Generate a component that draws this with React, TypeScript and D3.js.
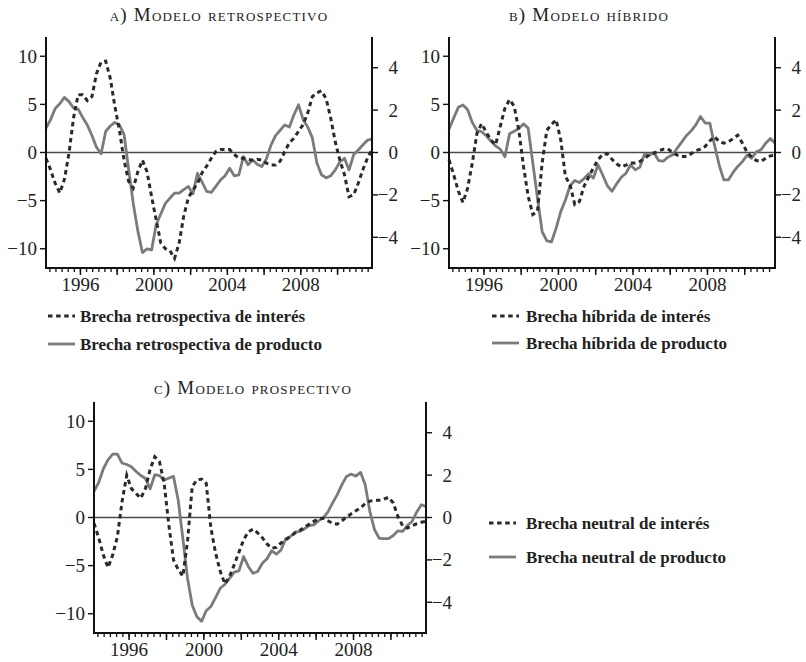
import React from "react";
import * as d3 from "d3";

// Quarterly observations, first observation 1994.125, step 0.25 year
const START = 1994.125;
const STEP = 0.25;

// a) Modelo retrospectivo
const interesA = [-0.6, -1.8, -3.2, -4.2, -2.8, -0.1, 3.6, 6.0, 6.0, 5.4, 5.8, 8.2, 9.4, 9.5, 7.7, 4.8, 2.3, -0.8, -3.0, -3.7, -2.0, -0.8, -2.0, -4.6, -7.0, -9.4, -10.0, -10.2, -11.0, -9.4, -6.6, -4.7, -3.9, -3.2, -2.1, -1.4, -0.6, 0.1, 0.3, 0.3, 0.3, -0.2, -0.6, -0.6, -0.7, -0.8, -0.7, -0.8, -1.1, -1.3, -1.3, -0.9, 0.1, 1.0, 1.5, 2.2, 2.9, 4.1, 5.8, 6.2, 6.4, 5.6, 3.6, 1.1, -0.8, -2.3, -4.6, -4.4, -3.2, -1.8, -0.6, 0.3];
const productoA = [1.15, 1.55, 2.08, 2.3, 2.6, 2.4, 2.1, 2.05, 1.65, 1.3, 0.8, 0.25, -0.06, 0.99, 1.25, 1.42, 1.3, 0.85, -0.8, -2.4, -3.7, -4.72, -4.55, -4.6, -3.4, -2.9, -2.4, -2.15, -1.92, -1.92, -1.75, -1.6, -1.95, -0.98, -1.4, -1.84, -1.88, -1.6, -1.3, -1.1, -0.74, -1.1, -1.06, -0.19, -0.58, -0.35, -0.55, -0.66, -0.3, 0.35, 0.8, 1.05, 1.3, 1.2, 1.78, 2.25, 1.55, 1.2, 0.7, -0.5, -1.05, -1.2, -1.1, -0.82, -0.45, -0.27, -0.82, -0.11, 0.12, 0.35, 0.58, 0.63];

// b) Modelo híbrido
const interesB = [-0.76, -2.3, -4.0, -5.2, -3.7, -1.1, 2.0, 3.0, 2.1, 1.3, 0.8, 2.7, 4.6, 5.5, 4.8, 2.3, -1.45, -4.55, -6.45, -6.1, -1.1, 2.3, 2.9, 3.4, 1.3, -2.5, -3.35, -5.4, -5.1, -3.5, -2.55, -1.6, -0.76, -0.17, -0.14, -0.7, -1.17, -1.5, -1.3, -1.1, -1.1, -0.93, -0.6, -0.24, -0.07, 0.17, 0.34, 0.38, 0.0, -0.28, -0.41, -0.41, -0.14, 0.2, 0.34, 0.62, 1.2, 1.65, 1.14, 0.97, 1.1, 1.45, 1.8, 0.97, 0.03, -0.48, -0.83, -0.93, -0.6, -0.35, -0.3];
const productoB = [1.1, 1.62, 2.13, 2.24, 2.02, 1.42, 1.04, 0.98, 0.79, 0.54, 0.31, 0.16, -0.2, 0.88, 1.0, 1.13, 1.35, 1.15, -0.5, -2.16, -3.73, -4.17, -4.22, -3.57, -2.79, -2.24, -1.57, -1.32, -1.42, -1.23, -1.0, -1.21, -0.58, -1.06, -1.57, -1.83, -1.48, -1.17, -0.98, -0.58, -0.82, -0.69, -0.06, -0.13, 0.0, -0.38, -0.41, -0.22, -0.11, 0.2, 0.5, 0.8, 1.02, 1.3, 1.7, 1.39, 1.39, 0.36, -0.58, -1.29, -1.29, -0.94, -0.66, -0.43, -0.13, -0.27, 0.03, 0.13, 0.44, 0.66, 0.44];

// c) Modelo prospectivo
const interesC = [-0.6, -2.1, -3.9, -5.2, -3.9, -2.0, 1.65, 4.4, 3.0, 2.5, 2.0, 3.0, 5.0, 6.3, 5.8, 3.55, -0.76, -4.4, -5.4, -6.1, -2.5, 3.2, 3.9, 4.0, 3.55, -1.1, -3.7, -5.6, -6.9, -6.1, -4.9, -3.6, -2.3, -1.5, -1.2, -1.6, -2.1, -2.75, -3.2, -3.1, -2.65, -2.3, -2.0, -1.6, -1.35, -1.0, -0.7, -0.4, -0.14, -0.07, -0.34, -0.6, -0.7, -0.34, 0.03, 0.38, 0.7, 1.0, 1.45, 1.7, 1.8, 1.8, 1.9, 2.1, 1.5, 0.1, -0.85, -1.1, -0.85, -0.65, -0.5, -0.4];
const productoC = [1.23, 1.65, 2.3, 2.72, 2.99, 2.99, 2.57, 2.5, 2.39, 2.17, 1.98, 1.84, 1.35, 2.02, 1.98, 1.76, 1.86, 1.94, 0.83, -0.98, -2.87, -4.13, -4.68, -4.9, -4.4, -4.2, -3.78, -3.34, -3.15, -2.87, -2.58, -2.52, -1.84, -2.31, -2.63, -2.55, -2.16, -1.95, -1.57, -1.73, -1.53, -1.0, -0.9, -0.69, -0.66, -0.54, -0.38, -0.35, -0.16, -0.03, 0.25, 0.68, 1.07, 1.54, 1.94, 2.05, 1.95, 2.13, 1.54, 0.28, -0.58, -0.98, -1.0, -1.0, -0.85, -0.63, -0.66, -0.38, -0.19, 0.25, 0.6, 0.52];

const leftTicks = [-10, -5, 0, 5, 10];
const rightTicks = [-4, -2, 0, 2, 4];
const yearLabels = [1996, 2000, 2004, 2008];
const majorYears = [1996, 1998, 2000, 2002, 2004, 2006, 2008, 2010];

const titles = ["a) Modelo retrospectivo", "b) Modelo híbrido", "c) Modelo prospectivo"];
const legendInteres = ["Brecha retrospectiva de interés", "Brecha híbrida de interés", "Brecha neutral de interés"];
const legendProducto = ["Brecha retrospectiva de producto", "Brecha híbrida de producto", "Brecha neutral de producto"];

const LEFT_DOMAIN: [number, number] = [-12, 12];
const RIGHT_DOMAIN: [number, number] = [-5.45, 5.45];

const panels = [
  {
    title: titles[0], interes: interesA, producto: productoA,
    box: { x0: 46, x1: 372, y0: 37, y1: 268 }, titleX: 219, titleY: 21,
    leg: { sx: 48, tx: 80, y1: 316, y2: 344 }, legI: legendInteres[0], legP: legendProducto[0],
  },
  {
    title: titles[1], interes: interesB, producto: productoB,
    box: { x0: 449, x1: 775, y0: 37, y1: 268 }, titleX: 589, titleY: 21,
    leg: { sx: 492, tx: 526, y1: 316, y2: 343 }, legI: legendInteres[1], legP: legendProducto[1],
  },
  {
    title: titles[2], interes: interesC, producto: productoC,
    box: { x0: 94, x1: 426, y0: 402, y1: 633 }, titleX: 253, titleY: 394,
    leg: { sx: 489, tx: 526, y1: 523, y2: 557 }, legI: legendInteres[2], legP: legendProducto[2],
  },
];

const TICK_FONT = "'Liberation Serif', 'Times New Roman', serif";
const INK = "#222";
const SOLID = "#7b7b7b";
const DOT = "#2a2a2a";

function Panel({ p }: { p: (typeof panels)[number] }) {
  const { x0, x1, y0, y1 } = p.box;
  const n = p.interes.length;
  const dates = d3.range(n).map((i) => START + STEP * i);
  const x = d3.scaleLinear().domain([dates[0], dates[n - 1]]).range([x0, x1]);
  const yL = d3.scaleLinear().domain(LEFT_DOMAIN).range([y1, y0]);
  const yR = d3.scaleLinear().domain(RIGHT_DOMAIN).range([y1, y0]);
  const lineL = d3.line<number>().x((_, i) => x(dates[i])).y((d) => yL(d));
  const lineR = d3.line<number>().x((_, i) => x(dates[i])).y((d) => yR(d));
  const minor = d3.range(1994 + 1 / 3, 2012, 1 / 3).filter((t) => x(t) > x0 + 1 && x(t) < x1 - 1);

  return (
    <g>
      <text x={p.titleX} y={p.titleY} textAnchor="middle" fontFamily={TICK_FONT} fontSize={19}
        style={{ fontVariant: "small-caps", letterSpacing: "1.2px" }} fill={INK}>{p.title}</text>
      {/* zero line */}
      <line x1={x0} x2={x1} y1={yL(0)} y2={yL(0)} stroke="#4a4a4a" strokeWidth={1.6} />
      <path d={lineR(p.producto) || ""} fill="none" stroke={SOLID} strokeWidth={2.8} strokeLinejoin="round" />
      <path d={lineL(p.interes) || ""} fill="none" stroke={DOT} strokeWidth={3} strokeDasharray="4.5 3.6" />
      {/* axes */}
      <line x1={x0} x2={x0} y1={y0} y2={y1 + 1} stroke="#111" strokeWidth={2} />
      <line x1={x1} x2={x1} y1={y0} y2={y1 + 1} stroke="#111" strokeWidth={2} />
      <line x1={x0 - 1} x2={x1 + 1} y1={y1} y2={y1} stroke="#111" strokeWidth={2} />
      {leftTicks.map((t) => (
        <g key={"l" + t}>
          <line x1={x0 - 6} x2={x0} y1={yL(t)} y2={yL(t)} stroke="#111" strokeWidth={1.4} />
          <text x={x0 - 9} y={yL(t)} dy="0.34em" textAnchor="end" fontFamily={TICK_FONT} fontSize={19} fill={INK}>
            {t < 0 ? "\u2212" + Math.abs(t) : String(t)}
          </text>
        </g>
      ))}
      {rightTicks.map((t) => (
        <g key={"r" + t}>
          <line x1={x1} x2={x1 + 6} y1={yR(t)} y2={yR(t)} stroke="#111" strokeWidth={1.4} />
          <text x={x1 + 26} y={yR(t)} dy="0.34em" textAnchor="end" fontFamily={TICK_FONT} fontSize={19} fill={INK}>
            {t < 0 ? "\u2212" + Math.abs(t) : String(t)}
          </text>
        </g>
      ))}
      {minor.map((t, i) => (
        <line key={"m" + i} x1={x(t)} x2={x(t)} y1={y1} y2={y1 + 4} stroke="#111" strokeWidth={1.3} />
      ))}
      {majorYears.map((t) => (
        <line key={"M" + t} x1={x(t)} x2={x(t)} y1={y1} y2={y1 + 7} stroke="#111" strokeWidth={1.5} />
      ))}
      {yearLabels.map((t) => (
        <text key={"y" + t} x={x(t)} y={y1 + 23} textAnchor="middle" fontFamily={TICK_FONT} fontSize={19} fill={INK}>
          {t}
        </text>
      ))}
      {/* legend */}
      <line x1={p.leg.sx} x2={p.leg.sx + 27} y1={p.leg.y1} y2={p.leg.y1} stroke={DOT} strokeWidth={3} strokeDasharray="4.5 3.6" />
      <text x={p.leg.tx} y={p.leg.y1 + 5.5} fontFamily={TICK_FONT} fontWeight="bold" fontSize={17} fill={INK}>{p.legI}</text>
      <line x1={p.leg.sx} x2={p.leg.sx + 27} y1={p.leg.y2} y2={p.leg.y2} stroke={SOLID} strokeWidth={2.8} />
      <text x={p.leg.tx} y={p.leg.y2 + 5.5} fontFamily={TICK_FONT} fontWeight="bold" fontSize={17} fill={INK}>{p.legP}</text>
    </g>
  );
}

export default function App() {
  return (
    <svg width={806} height={662} viewBox="0 0 806 662"
      style={{ position: "absolute", left: 0, top: 0, background: "#fff" }}>
      <rect x={0} y={0} width={806} height={662} fill="#fff" />
      {panels.map((p, i) => (
        <Panel key={i} p={p} />
      ))}
    </svg>
  );
}
